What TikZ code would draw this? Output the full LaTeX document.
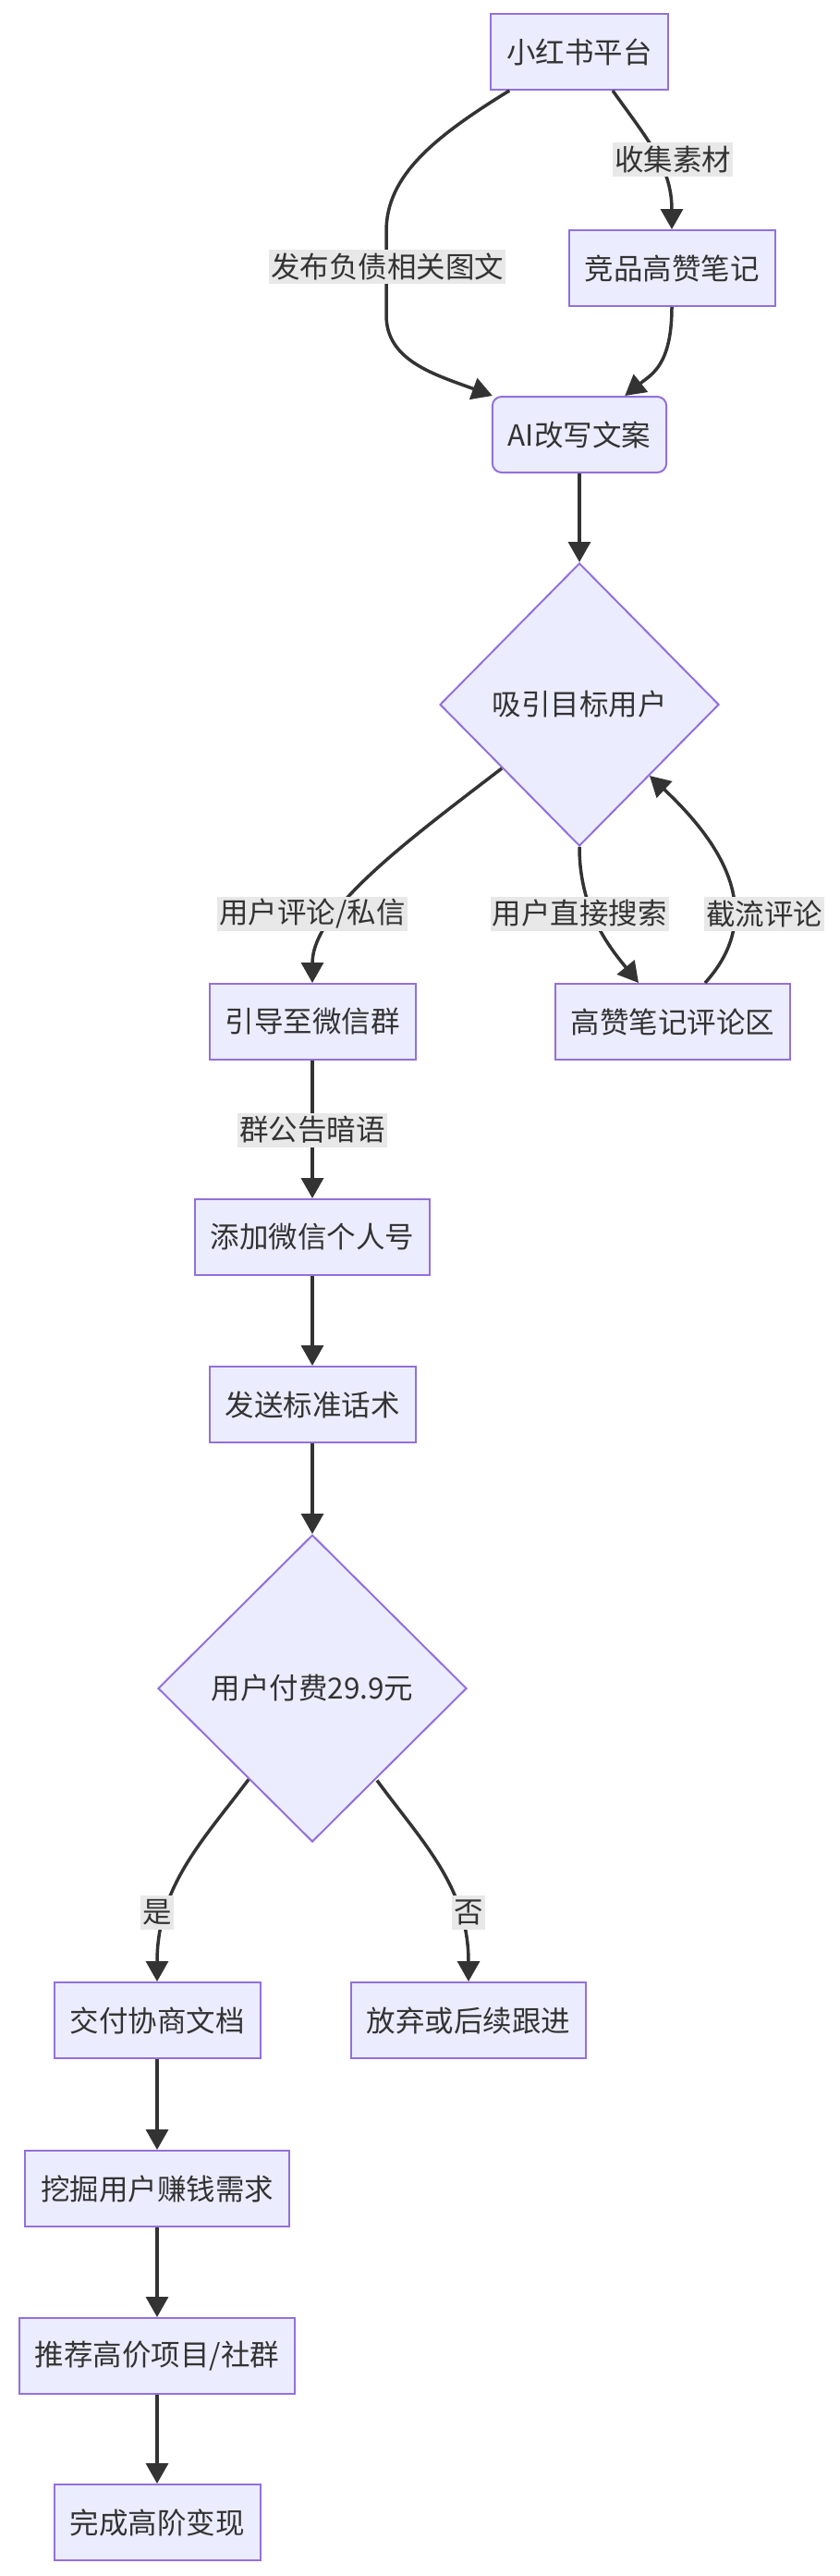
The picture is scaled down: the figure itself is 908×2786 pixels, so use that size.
\documentclass[tikz,border=0pt]{standalone}
\usepackage{fontspec}
\newfontfamily\cjk{Noto Sans CJK SC}
\usetikzlibrary{shapes.geometric,arrows.meta,calc}
\definecolor{nodefill}{HTML}{ECECFF}
\definecolor{nodeline}{HTML}{9370DB}
\definecolor{edgecol}{HTML}{333333}
\definecolor{lblfill}{HTML}{E8E8E8}
\definecolor{txt}{HTML}{333333}
\begin{document}
\begin{tikzpicture}[x=1pt,y=-1pt,
 base/.style={font=\cjk\fontsize{31.5}{37}\selectfont, text=txt},
 box/.style={base, draw=nodeline, fill=nodefill, line width=2pt, inner xsep=17pt, inner ysep=0pt, minimum height=82pt},
 rbox/.style={box, rounded corners=10pt},
 dia/.style={base, diamond, draw=nodeline, fill=nodefill, line width=2pt, inner sep=0pt},
 edge/.style={draw=edgecol, line width=3.5pt, -{Triangle[length=22pt,width=24pt]}},
 lbl/.style={base, fill=lblfill, inner xsep=2pt, inner ysep=0pt, minimum height=37pt}]
\fill[white] (0,0) rectangle (908,2786);
\useasboundingbox (0,0) rectangle (908,2786);

% nodes
\node[box] (p) at (627,56) {小红书平台};
\node[box] (jp) at (727,290) {竞品高赞笔记};
\node[rbox] (ai) at (627,470) {AI改写文案};
\node[dia, minimum width=302pt, minimum height=306pt] (d1) at (627,762) {吸引目标用户};
\node[box] (yd) at (338,1105) {引导至微信群};
\node[box] (gz) at (728,1105) {高赞笔记评论区};
\node[box] (tj) at (338,1338) {添加微信个人号};
\node[box] (fs) at (338,1519) {发送标准话术};
\node[dia, minimum width=334pt, minimum height=332pt] (d2) at (338,1826) {用户付费29.9元};
\node[box] (jf) at (170,2185) {交付协商文档};
\node[box] (fq) at (507,2185) {放弃或后续跟进};
\node[box] (wj) at (170,2367) {挖掘用户赚钱需求};
\node[box] (tc) at (170,2548) {推荐高价项目/社群};
\node[box] (wc) at (170,2728) {完成高阶变现};

% edges
\draw[edge] ([xshift=21pt]p.south west) .. controls (470,148) and (418,190) .. (418,250) -- (418,341) .. controls (418,390) and (470,405) .. ([xshift=1pt]ai.north west);
\draw[edge] ([xshift=36pt]p.south) .. controls (700,150) and (727,180) .. (jp.north);
\draw[edge] (jp.south) .. controls (727,395) and (705,405) .. ([xshift=-46pt]ai.north east);
\draw[edge] (ai.south) -- (d1.north);
\draw[edge] ([shift={(-8,-8)}]d1.south west) .. controls (440,910) and (338,985) .. (yd.north);
\draw[edge] (d1.south) .. controls (627,985) and (660,1025) .. ([xshift=-37pt]gz.north);
\draw[edge] ([xshift=35pt]gz.north) .. controls (820,1000) and (800,930) .. (d1.south east);
\draw[edge] (yd.south) -- (tj.north);
\draw[edge] (tj.south) -- (fs.north);
\draw[edge] (fs.south) -- (d2.north);
\draw[edge] ([shift={(15,15)}]d2.south west) .. controls (220,1990) and (170,2040) .. (jf.north);
\draw[edge] ([shift={(-14,16)}]d2.south east) .. controls (455,1990) and (507,2040) .. (fq.north);
\draw[edge] (jf.south) -- (wj.north);
\draw[edge] (wj.south) -- (tc.north);
\draw[edge] (tc.south) -- (wc.north);

% edge labels
\node[lbl] (l1) at (419,288) {发布负债相关图文};
\node[lbl] (l2) at (728,172) {收集素材};
\node[lbl] (l3) at (338,988) {用户评论/私信};
\node[lbl] (l4) at (627,988) {用户直接搜索};
\node[lbl] (l5) at (827,988) {截流评论};
\node[lbl] (l6) at (338,1222) {群公告暗语};
\node[lbl] (l7) at (170,2068) {是};
\node[lbl] (l8) at (507,2068) {否};
\end{tikzpicture}
\end{document}
